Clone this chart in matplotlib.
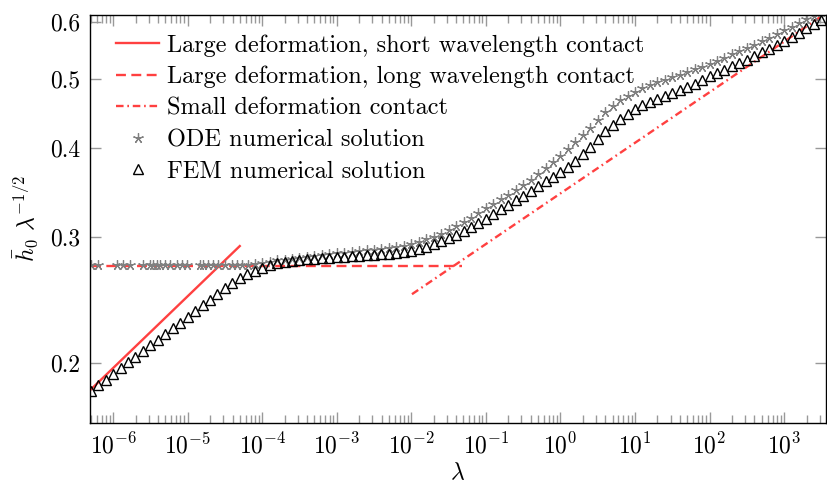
import numpy as np
import matplotlib
matplotlib.use('Agg')
import matplotlib.pyplot as plt
from matplotlib.ticker import LogLocator, FixedLocator, NullLocator, NullFormatter

plt.rcParams['font.family'] = 'serif'
plt.rcParams['font.serif'] = ['cmr10']
plt.rcParams['mathtext.fontset'] = 'cm'
plt.rcParams['axes.formatter.use_mathtext'] = True

RED = '#ff4040'

# asymptotes (end points)
short_lam = [5e-7, 5e-5]
short_h = [0.1835, 0.2915]
long_lam = [5e-7, 0.048]
long_h = [0.2732, 0.2732]
small_lam = [0.0102, 4000]
small_h = [0.2496, 0.6215]

# ODE numerical solution (log10 lambda, h)
ode_loglam = [-6.29, -6.20, -5.95, -5.87, -5.77, -5.60, -5.50, -5.46, -5.41, -5.37,
              -5.30, -5.24, -5.14, -5.08, -5.01, -4.83, -4.79, -4.73, -4.66, -4.59,
              -4.50, -4.41, -4.34, -4.27, -4.19, -4.10,
              -4.0, -3.9, -3.8, -3.7, -3.6, -3.5, -3.4, -3.3, -3.2, -3.1,
              -3.0, -2.9, -2.8, -2.7, -2.6, -2.5, -2.4, -2.3, -2.2, -2.1,
              -2.0, -1.9, -1.8, -1.7, -1.6, -1.5, -1.4, -1.3, -1.2, -1.1,
              -1.0, -0.9, -0.8, -0.7, -0.6, -0.5, -0.4, -0.3, -0.2, -0.1,
              0.0, 0.1, 0.2, 0.3, 0.4, 0.5, 0.6, 0.7, 0.8, 0.9,
              1.0, 1.1, 1.2, 1.3, 1.4, 1.5, 1.6, 1.7, 1.8, 1.9,
              2.0, 2.1, 2.2, 2.3, 2.4, 2.5, 2.6, 2.7, 2.8, 2.9,
              3.0, 3.1, 3.2, 3.3, 3.4, 3.5]
ode_h = [0.2740, 0.2740, 0.2740, 0.2740, 0.2740, 0.2740, 0.2740, 0.2740, 0.2740, 0.2740,
         0.2740, 0.2740, 0.2740, 0.2740, 0.2740, 0.2740, 0.2740, 0.2740, 0.2740, 0.2740,
         0.2740, 0.2740, 0.2741, 0.2742, 0.2745, 0.2752,
         0.2762, 0.2773, 0.2783, 0.2791, 0.2799, 0.2806, 0.2814, 0.2822, 0.2830, 0.2838,
         0.2846, 0.2854, 0.2861, 0.2868, 0.2875, 0.2882, 0.2890, 0.2898, 0.2906, 0.2918,
         0.2935, 0.2955, 0.2978, 0.3005, 0.3035, 0.3068, 0.3105, 0.3150, 0.3195, 0.3245,
         0.3295, 0.3340, 0.3388, 0.3440, 0.3495, 0.3552, 0.3610, 0.3675, 0.3745, 0.3820,
         0.3900, 0.3985, 0.4075, 0.4170, 0.4270, 0.4380, 0.4490, 0.4580, 0.4660, 0.4730,
         0.4790, 0.4845, 0.4895, 0.4940, 0.4985, 0.5025, 0.5065, 0.5105, 0.5150, 0.5195,
         0.5245, 0.5295, 0.5350, 0.5405, 0.5460, 0.5515, 0.5575, 0.5640, 0.5705, 0.5770,
         0.5840, 0.5910, 0.5980, 0.6050, 0.6120, 0.6190]

# FEM numerical solution (log10 lambda, h)
fem_loglam = [-6.3, -6.2, -6.1, -6.0, -5.9, -5.8, -5.7, -5.6, -5.5, -5.4,
              -5.3, -5.2, -5.1, -5.0, -4.9, -4.8, -4.7, -4.6, -4.5, -4.4,
              -4.3, -4.2, -4.1, -4.0, -3.9, -3.8, -3.7, -3.6, -3.5, -3.4,
              -3.3, -3.2, -3.1, -3.0, -2.9, -2.8, -2.7, -2.6, -2.5, -2.4,
              -2.3, -2.2, -2.1, -2.0, -1.9, -1.8, -1.7, -1.6, -1.5, -1.4,
              -1.3, -1.2, -1.1, -1.0, -0.9, -0.8, -0.7, -0.6, -0.5, -0.4,
              -0.3, -0.2, -0.1, 0.0, 0.1, 0.2, 0.3, 0.4, 0.5, 0.6,
              0.7, 0.8, 0.9, 1.0, 1.1, 1.2, 1.3, 1.4, 1.5, 1.6,
              1.7, 1.8, 1.9, 2.0, 2.1, 2.2, 2.3, 2.4, 2.5, 2.6,
              2.7, 2.8, 2.9, 3.0, 3.1, 3.2, 3.3, 3.4, 3.5]
fem_h = [0.1827, 0.1861, 0.1895, 0.1930, 0.1966, 0.2003, 0.2040, 0.2078, 0.2116, 0.2156,
         0.2196, 0.2237, 0.2278, 0.2320, 0.2363, 0.2407, 0.2452, 0.2497, 0.2545, 0.2590,
         0.2630, 0.2660, 0.2690, 0.2718, 0.2740, 0.2757, 0.2770, 0.2780, 0.2788, 0.2795,
         0.2800, 0.2804, 0.2808, 0.2812, 0.2815, 0.2819, 0.2823, 0.2828, 0.2833, 0.2838,
         0.2843, 0.2849, 0.2856, 0.2870, 0.2888, 0.2910, 0.2935, 0.2962, 0.2990, 0.3022,
         0.3060, 0.3100, 0.3140, 0.3183, 0.3230, 0.3280, 0.3330, 0.3380, 0.3430, 0.3480,
         0.3535, 0.3590, 0.3640, 0.3695, 0.3760, 0.3835, 0.3920, 0.4010, 0.4110, 0.4220,
         0.4310, 0.4390, 0.4460, 0.4530, 0.4590, 0.4640, 0.4685, 0.4730, 0.4775, 0.4820,
         0.4865, 0.4915, 0.4975, 0.5040, 0.5090, 0.5145, 0.5200, 0.5255, 0.5310, 0.5375,
         0.5440, 0.5510, 0.5580, 0.5650, 0.5725, 0.5800, 0.5880, 0.5960, 0.6040]

xtick_vals = [1e-6, 1e-5, 1e-4, 1e-3, 1e-2, 1e-1, 1e0, 1e1, 1e2, 1e3]
ytick_vals = [0.2, 0.3, 0.4, 0.5, 0.6]

fig = plt.figure(figsize=(8.28, 4.86), dpi=100)
ax = fig.add_axes([0.1087, 0.1296, 0.8889, 0.8394])
ax.set_xscale('log')
ax.set_yscale('log')

ax.plot(short_lam, short_h, color=RED, lw=1.7, label='Large deformation, short wavelength contact')
ax.plot(long_lam, long_h, color=RED, lw=1.7, dashes=(4.2, 2.3),
        label='Large deformation, long wavelength contact')
ax.plot(small_lam, small_h, color=RED, lw=1.7, dashes=(3.2, 1.6, 0.7, 1.6),
        label='Small deformation contact')
ax.plot(10 ** np.array(ode_loglam), ode_h, ls='none', marker=(5, 2, 0), ms=7.5,
        mew=0.9, color='#808080', label='ODE numerical solution')
ax.plot(10 ** np.array(fem_loglam), fem_h, ls='none', marker='^', ms=6.5,
        mew=1.0, mfc='none', mec='black', label='FEM numerical solution')

ax.set_xlim(4.9e-7, 3650)
ax.set_ylim(0.1648, 0.6137)

ax.xaxis.set_major_locator(FixedLocator(xtick_vals))
ax.xaxis.set_minor_locator(LogLocator(base=10, subs=np.arange(2, 10), numticks=300))
ax.xaxis.set_minor_formatter(NullFormatter())
ax.yaxis.set_major_locator(FixedLocator(ytick_vals))
ax.yaxis.set_minor_locator(NullLocator())
ax.set_yticklabels([str(v) for v in ytick_vals])

ax.tick_params(which='both', direction='in', top=True, right=True, color='#999999',
               labelsize=17, width=1.0)
ax.tick_params(which='major', length=8, pad=7)
ax.tick_params(which='minor', length=5.5)
for s in ax.spines.values():
    s.set_linewidth(1.0)

ax.set_xlabel(r'$\lambda$', fontsize=17, labelpad=3)
ax.set_ylabel(r'$\bar{h}_0\ \lambda^{-1/2}$', fontsize=17, labelpad=7)

ax.legend(loc='upper left', bbox_to_anchor=(0.036, 0.953), frameon=False, fontsize=17.5,
          handlelength=1.73, handletextpad=0.33, labelspacing=0.38, numpoints=1,
          borderpad=0, borderaxespad=0)

fig.savefig('out.png', dpi=100)
